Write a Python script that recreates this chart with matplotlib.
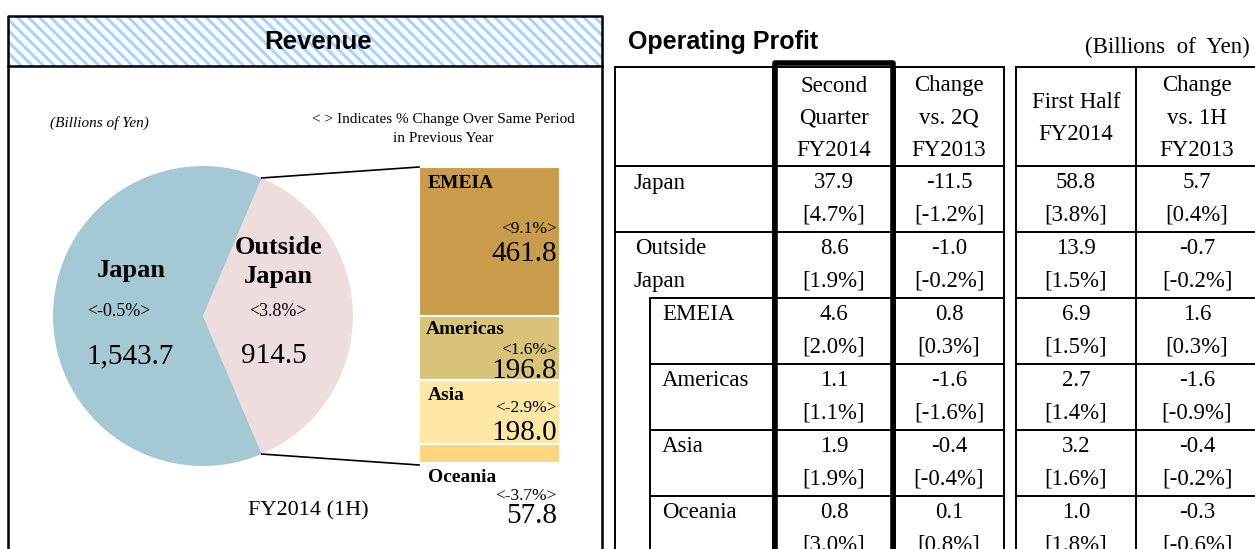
import matplotlib.pyplot as plt
from matplotlib.patches import Rectangle
import numpy as np

plt.rcParams['font.family'] = 'Liberation Serif'
plt.rcParams['hatch.linewidth'] = 2.2

# revenue (billions of yen)
pie_labels = ['Outside\nJapan', 'Japan']
pie_vals = [914.5, 1543.7]
pie_pct = ['<3.8%>', '<-0.5%>']
pie_colors = ['#EDDDDD', '#A5C9D4']

regions = ['EMEIA', 'Americas', 'Asia', 'Oceania']
region_vals = [461.8, 196.8, 198.0, 57.8]
region_pct = ['<9.1%>', '<1.6%>', '<-2.9%>', '<-3.7%>']
region_colors = ['#C89C4A', '#D9C37B', '#FFE8A5', '#FFD57F']

# operating profit table
op_rows = ['Japan', 'Outside\nJapan', 'EMEIA', 'Americas', 'Asia', 'Oceania']
q2 = [37.9, 8.6, 4.6, 1.1, 1.9, 0.8]
q2_pct = [4.7, 1.9, 2.0, 1.1, 1.9, 3.0]
q2_chg = [-11.5, -1.0, 0.8, -1.6, -0.4, 0.1]
q2_chg_pct = [-1.2, -0.2, 0.3, -1.6, -0.4, 0.8]
h1 = [58.8, 13.9, 6.9, 2.7, 3.2, 1.0]
h1_pct = [3.8, 1.5, 1.5, 1.4, 1.6, 1.8]
h1_chg = [5.7, -0.7, 1.6, -1.6, -0.4, -0.3]
h1_chg_pct = [0.4, -0.2, 0.3, -0.9, -0.2, -0.6]
col_heads = ['Second\nQuarter\nFY2014', 'Change\nvs. 2Q\nFY2013', 'First Half\nFY2014', 'Change\nvs. 1H\nFY2013']

fig = plt.figure(figsize=(12.55, 5.49), dpi=100)
ax = fig.add_axes([0, 0, 1, 1])

# ---- left panel: Revenue ----
ax.add_patch(Rectangle((8, 16), 594, 50, facecolor='white', edgecolor='#A8D3FF',
                       hatch='\\\\\\', lw=0))
ax.plot([8, 8, 602, 602], [560, 16, 16, 560], color='black', lw=1.8)
ax.plot([8, 602], [66, 66], color='black', lw=1.8)
ax.text(318, 42, 'Revenue', family='Liberation Sans', fontsize=18.5, weight='bold',
        ha='center', va='center')
ax.text(50, 123, '(Billions of Yen)', fontsize=11, style='italic', va='center')
ax.text(443, 120, '< > Indicates % Change Over Same Period', fontsize=11,
        ha='center', va='center')
ax.text(443, 138, 'in Previous Year', fontsize=11, ha='center', va='center')

cx, cy, r = 203, 316, 150
half = 180 * pie_vals[0] / sum(pie_vals)
ax.pie(pie_vals, colors=pie_colors, center=(cx, cy), radius=r, startangle=-half,
       wedgeprops=dict(linewidth=0))

ax.text(131, 271, 'Japan', fontsize=19, weight='bold', ha='center', va='center')
ax.text(119, 311, pie_pct[1], fontsize=13, ha='center', va='center')
ax.text(130, 356, f'{pie_vals[1]:,.1f}', fontsize=21, ha='center', va='center')
ax.text(279, 248, 'Outside', fontsize=19, weight='bold', ha='center', va='center')
ax.text(278, 277, 'Japan', fontsize=19, weight='bold', ha='center', va='center')
ax.text(278, 311, pie_pct[0], fontsize=13, ha='center', va='center')
ax.text(274, 356, f'{pie_vals[0]:.1f}', fontsize=21, ha='center', va='center')
ax.text(308, 511, 'FY2014 (1H)', fontsize=16, ha='center', va='center')

# stacked breakdown bar
bx, bw, btop, bh = 419, 141, 167, 296
heights = np.array(region_vals) / sum(region_vals) * bh
bottoms = btop + np.concatenate([[0], np.cumsum(heights)[:-1]])
ax.bar([bx] * 4, heights, bottom=bottoms, width=bw, align='edge',
       color=region_colors, edgecolor='white', linewidth=1.5)

# connectors from wedge edges to bar
top_pt = (cx + r * np.cos(np.radians(half)), cy - r * np.sin(np.radians(half)))
bot_pt = (cx + r * np.cos(np.radians(half)), cy + r * np.sin(np.radians(half)))
ax.plot([top_pt[0], bx], [top_pt[1], btop], color='black', lw=1.2)
ax.plot([bot_pt[0], bx], [bot_pt[1], btop + bh + 2], color='black', lw=1.2)

name_y = [183, 330, 395, 478]
pct_y = [229, 350, 408, 496]
val_y = [254, 371, 433, 516]
for i in range(4):
    ax.text(428 if i != 1 else 426, name_y[i], regions[i], fontsize=14, weight='bold',
            va='center')
    ax.text(557, pct_y[i], region_pct[i], fontsize=12.5, ha='right', va='center')
    ax.text(557, val_y[i], f'{region_vals[i]:.1f}', fontsize=21, ha='right', va='center')

# ---- right panel: Operating Profit ----
ax.text(628, 42, 'Operating Profit', family='Liberation Sans', fontsize=18,
        weight='bold', va='center')
ax.text(1250, 47, '(Billions  of  Yen)', fontsize=16.5, ha='right', va='center')

t1 = [615, 773, 895, 1004]
t2 = [1016, 1136, 1258]
row_y = [166, 232, 298, 364, 430, 496, 562]
lw = 1.4
for xs in (t1, t2):
    ax.plot([xs[0], xs[-1]], [67, 67], color='black', lw=lw)
    for x in xs:
        ax.plot([x, x], [67, 560], color='black', lw=lw)
    for j, y in enumerate(row_y):
        x0 = xs[0] if (xs is t2 or j < 2) else 650
        ax.plot([x0, xs[-1]], [y, y], color='black', lw=lw)
ax.plot([650, 650], [298, 560], color='black', lw=lw)
# highlighted column
ax.plot([775, 775, 893, 893], [560, 63, 63, 560], color='black', lw=4,
        solid_joinstyle='round')

fs = 16.5
head_x = [834, 949, 1076, 1197]
for hx, head in zip(head_x, col_heads):
    lines = head.split('\n')
    y0 = 86 if len(lines) == 3 else 102
    for k, line in enumerate(lines):
        ax.text(hx, y0 + 32 * k, line, fontsize=fs, ha='center', va='center')

cols = [(q2, q2_pct), (q2_chg, q2_chg_pct), (h1, h1_pct), (h1_chg, h1_chg_pct)]
for j, name in enumerate(op_rows):
    top = row_y[j]
    if j == 1:
        ax.text(635, top + 17, 'Outside', fontsize=fs, va='center')
        ax.text(633, top + 49, 'Japan', fontsize=fs, va='center')
    else:
        ax.text(633 if j == 0 else 662, top + 17, name, fontsize=fs, va='center')
    for hx, (v, p) in zip(head_x, cols):
        ax.text(hx, top + 17, f'{v[j]:.1f}', fontsize=fs, ha='center', va='center')
        ax.text(hx, top + 49, f'[{p[j]:.1f}%]', fontsize=fs, ha='center', va='center')

ax.set_xlim(0, 1255)
ax.set_ylim(549, 0)
ax.set_aspect('auto')
ax.axis('off')
fig.savefig('out.png', dpi=100)
